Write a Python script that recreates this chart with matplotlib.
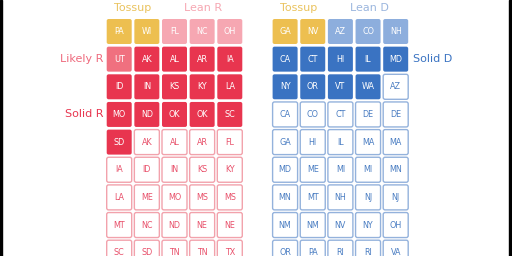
import matplotlib
matplotlib.use("Agg")
import matplotlib.pyplot as plt
from matplotlib.patches import FancyBboxPatch, Rectangle

# Senate seat grid: 5 columns per side, row by row
r_states = ['PA', 'WI', 'FL', 'NC', 'OH',
            'UT', 'AK', 'AL', 'AR', 'IA',
            'ID', 'IN', 'KS', 'KY', 'LA',
            'MO', 'ND', 'OK', 'OK', 'SC',
            'SD', 'AK', 'AL', 'AR', 'FL',
            'IA', 'ID', 'IN', 'KS', 'KY',
            'LA', 'ME', 'MO', 'MS', 'MS',
            'MT', 'NC', 'ND', 'NE', 'NE',
            'SC', 'SD', 'TN', 'TN', 'TX']
r_status = ['toss', 'toss', 'lean', 'lean', 'lean',
            'likely', 'solid', 'solid', 'solid', 'solid',
            'solid', 'solid', 'solid', 'solid', 'solid',
            'solid', 'solid', 'solid', 'solid', 'solid',
            'solid'] + ['held'] * 24

d_states = ['GA', 'NV', 'AZ', 'CO', 'NH',
            'CA', 'CT', 'HI', 'IL', 'MD',
            'NY', 'OR', 'VT', 'WA', 'AZ',
            'CA', 'CO', 'CT', 'DE', 'DE',
            'GA', 'HI', 'IL', 'MA', 'MA',
            'MD', 'ME', 'MI', 'MI', 'MN',
            'MN', 'MT', 'NH', 'NJ', 'NJ',
            'NM', 'NM', 'NV', 'NY', 'OH',
            'OR', 'PA', 'RI', 'RI', 'VA']
d_status = ['toss', 'toss', 'lean', 'lean', 'lean',
            'solid', 'solid', 'solid', 'solid', 'solid',
            'solid', 'solid', 'solid', 'solid'] + ['held'] * 31

ncols = 5
toss = '#EDBF50'
r_colors = {'toss': toss, 'lean': '#F6A7B2', 'likely': '#F0707F',
            'solid': '#E8354F', 'held': 'white'}
d_colors = {'toss': toss, 'lean': '#8DAEDD', 'solid': '#3A73C2', 'held': 'white'}
r_line = '#F2A2AC'
d_line = '#94B2DC'
r_text = '#E8506A'
d_text = '#4A7DC2'

fig = plt.figure(figsize=(5.12, 2.56), dpi=100)
ax = fig.add_axes([0, 0, 1, 1])
pitch = 27.65
ax.set_xlim(-106.7 / pitch, (512 - 106.7) / pitch)
ax.set_ylim((256 - 19) / pitch, -19 / pitch)
ax.axis('off')

size = 0.904


def draw_side(states, status, colors, line, tcol, x0):
    for i, (st, s) in enumerate(zip(states, status)):
        c = x0 + i % ncols
        r = i // ncols
        held = s == 'held'
        box = FancyBboxPatch((c, r), size, size,
                             boxstyle='round,pad=0,rounding_size=0.07',
                             facecolor=colors[s],
                             edgecolor=line if held else 'none',
                             linewidth=1.0)
        ax.add_patch(box)
        ax.text(c + size / 2, r + size / 2, st, ha='center', va='center',
                fontsize=5.8, color=tcol if held else 'white')


draw_side(r_states, r_status, r_colors, r_line, r_text, 0)
draw_side(d_states, d_status, d_colors, d_line, d_text, 6)

lab = dict(fontsize=8, va='center')
ax.text(0.95, -0.40, 'Tossup', ha='center', color='#EAC35E', **lab)
ax.text(3.5, -0.40, 'Lean R', ha='center', color='#F6A7B2', **lab)
ax.text(-0.13, 1.45, 'Likely R', ha='right', color='#EF6A7D', **lab)
ax.text(-0.13, 3.45, 'Solid R', ha='right', color='#E8354F', **lab)
ax.text(6.95, -0.40, 'Tossup', ha='center', color='#EAC35E', **lab)
ax.text(9.5, -0.40, 'Lean D', ha='center', color='#9BB6DE', **lab)
ax.text(11.07, 1.45, 'Solid D', ha='left', color='#3A73C2', **lab)

# thin dark frame edges
ax.add_patch(Rectangle((0, 0), 0.003, 1, transform=ax.transAxes, color='black'))
ax.add_patch(Rectangle((0.995, 0), 0.005, 1, transform=ax.transAxes, color='black'))

fig.savefig('out.png', dpi=100)
